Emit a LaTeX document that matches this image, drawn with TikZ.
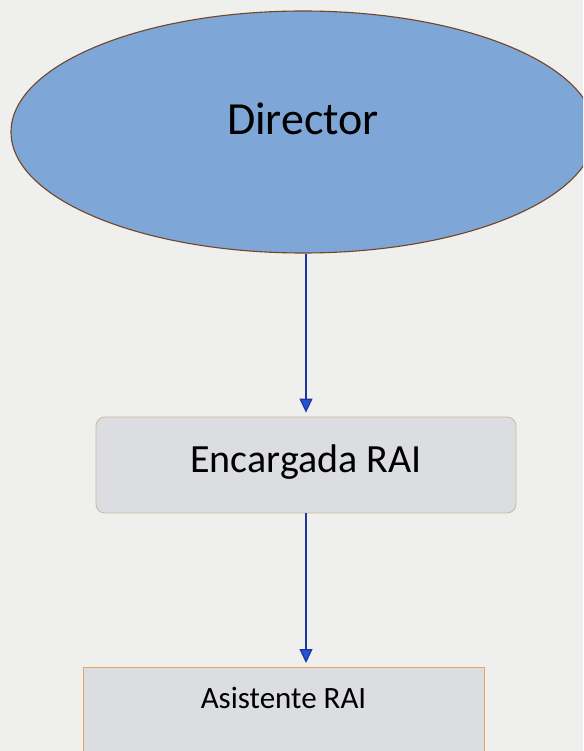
\documentclass[tikz,border=0pt]{standalone}
\usepackage{fontspec}
\setmainfont{Carlito}
\usetikzlibrary{arrows.meta,shapes.geometric}
\definecolor{paper}{RGB}{239,239,237}
\definecolor{dirblue}{RGB}{126,166,214}
\definecolor{dirline}{RGB}{115,70,35}
\definecolor{boxgray}{RGB}{219,221,225}
\definecolor{boxtan}{RGB}{205,185,155}
\definecolor{boxorange}{RGB}{228,165,95}
\definecolor{arrblue}{RGB}{30,55,160}
\definecolor{tipblue}{RGB}{35,85,215}

\begin{document}
\begin{tikzpicture}[x=1pt,y=-1pt,>={Triangle[width=13pt,length=14pt,fill=tipblue]}]
 \tikzstyle{dirnode} = [ellipse,draw=dirline,line width=1.1pt,fill=dirblue,inner sep=0,minimum width=584,minimum height=242,text height=30pt,text depth=24pt,font=\fontsize{46}{50}\selectfont]
 \tikzstyle{encnode} = [rectangle,rounded corners=9pt,draw=boxtan,line width=0.8pt,fill=boxgray,inner sep=0,minimum width=420,minimum height=96,text height=30pt,text depth=16pt,font=\fontsize{40}{44}\selectfont]
 \tikzstyle{asinode} = [rectangle,draw=boxorange,line width=1pt,fill=boxgray,inner sep=0,minimum width=401,text height=41pt,text depth=120pt,font=\fontsize{31}{35}\selectfont]
 \tikzstyle{conn} = [->,draw=arrblue,line width=1.3pt,shorten >=4pt]

% Page
 \useasboundingbox (0,0) rectangle (583,751);
 \clip (0,0) rectangle (583,751);
 \fill[paper] (0,0) rectangle (583,751);

% Boxes
 \node[dirnode] (dir) at (303,132) {Director};
 \node[encnode] (enc) at (306,465) {Encargada RAI};
 \node[asinode,anchor=north] (asi) at (283.5,667) {Asistente RAI};

% Connectors
 \draw[conn] (enc.north |- dir.south) -- (enc.north);
 \draw[conn] (enc.south) -- (enc.south |- asi.north);

\end{tikzpicture}
\end{document}
